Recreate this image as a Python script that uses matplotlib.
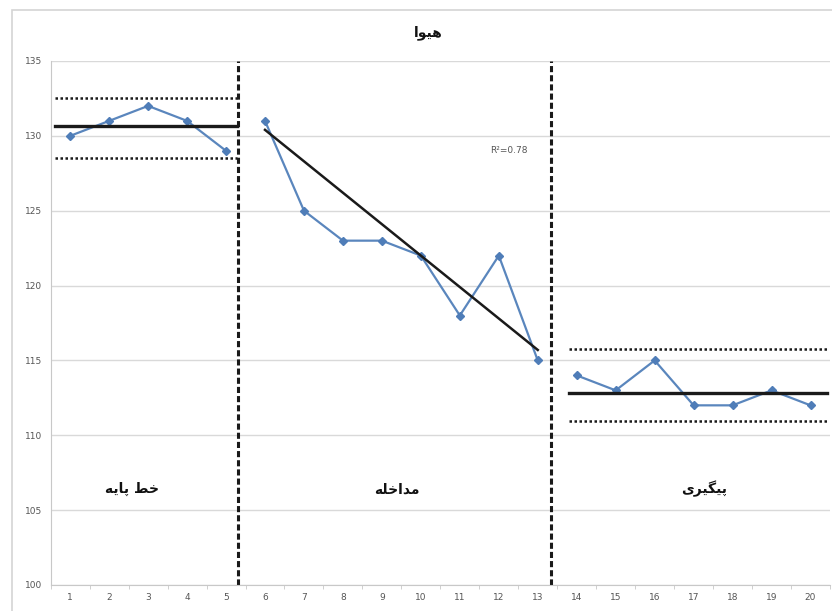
import matplotlib
matplotlib.use("Agg")
import matplotlib.pyplot as plt
from matplotlib.patches import Rectangle

plt.rcParams['font.family'] = ['DejaVu Sans']

# Session numbers and measured values per phase
baseline_x = [1, 2, 3, 4, 5]
baseline_y = [130, 131, 132, 131, 129]
intervention_x = [6, 7, 8, 9, 10, 11, 12, 13]
intervention_y = [131, 125, 123, 123, 122, 118, 122, 115]
followup_x = [14, 15, 16, 17, 18, 19, 20]
followup_y = [114, 113, 115, 112, 112, 113, 112]

# Reference levels: mean and upper/lower bands
baseline_levels = {"mean": 130.65, "upper": 132.5, "lower": 128.5}
followup_levels = {"mean": 112.85, "upper": 115.75, "lower": 110.95}
trend_x = [6, 13]
trend_y = [130.4, 115.7]
r_squared = 0.78

phase_breaks = [5.3, 13.35]

# Arabic-script labels in visual (presentation-form) order
title_text = "\uFE8D\uFEEE\uFEF4\uFEEB"                      # هیوا
label_baseline = "\uFEEA\uFEF3\uFE8E\uFB58 \uFEC2\uFEA7"     # خط پایه
label_intervention = "\uFEEA\uFEE0\uFEA7\uFE8D\uFEAA\uFEE3"  # مداخله
label_followup = "\uFEEF\uFEAE\uFEF4\uFB95\uFEF4\uFB58"      # پیگیری

fig = plt.figure(figsize=(8.32, 6.11), dpi=100)
fig.patch.set_facecolor("white")
fig.patches.append(Rectangle((12 / 832, -0.1), 1.2, (611 - 10) / 611 + 0.1,
                             transform=fig.transFigure, fill=False,
                             edgecolor="#d4d4d4", linewidth=1.2))

ax = fig.add_axes([50.7 / 832, 26 / 611, 779.3 / 832, 524 / 611])
ax.set_xlim(0.5, 20.5)
ax.set_ylim(100, 135)
ax.set_yticks(range(100, 136, 5))
ax.set_xticks(range(1, 21))
ax.grid(axis="y", color="#d9d9d9", linewidth=1.0)
ax.set_axisbelow(True)
for s in ["top", "right"]:
    ax.spines[s].set_visible(False)
for s in ["left", "bottom"]:
    ax.spines[s].set_color("#c8c8c8")
ax.tick_params(axis="both", length=0, labelsize=6.5, labelcolor="#555555", pad=6)
ax.set_xticks([i + 0.5 for i in range(0, 21)], minor=True)
ax.tick_params(axis="x", which="minor", length=3, color="#c8c8c8")

line_kw = dict(color="#5a86bd", linewidth=1.6, marker="D", markersize=4,
               markerfacecolor="#4f7db8", markeredgecolor="#4f7db8")
ax.plot(baseline_x, baseline_y, **line_kw)
ax.plot(intervention_x, intervention_y, **line_kw)
ax.plot(followup_x, followup_y, **line_kw)

# Baseline band
bx = [0.6, 5.27]
ax.plot(bx, [baseline_levels["mean"]] * 2, color="#1a1a1a", linewidth=2.4)
ax.plot(bx, [baseline_levels["upper"]] * 2, color="#1a1a1a", linewidth=1.8, linestyle=(0, (1, 1)))
ax.plot(bx, [baseline_levels["lower"]] * 2, color="#1a1a1a", linewidth=1.8, linestyle=(0, (1, 1)))

# Follow-up band
fx = [13.8, 20.42]
ax.plot(fx, [followup_levels["mean"]] * 2, color="#1a1a1a", linewidth=2.4)
ax.plot(fx, [followup_levels["upper"]] * 2, color="#1a1a1a", linewidth=1.8, linestyle=(0, (1, 1)))
ax.plot(fx, [followup_levels["lower"]] * 2, color="#1a1a1a", linewidth=1.8, linestyle=(0, (1, 1)))

# Intervention trend line
ax.plot(trend_x, trend_y, color="#1a1a1a", linewidth=1.8)
ax.text(12.26, 129.0, "R\u00b2=0.78".replace("0.78", f"{r_squared:.2f}"),
        ha="center", va="center", fontsize=6.5, color="#555555")

# Phase dividers
for xb in phase_breaks:
    ax.plot([xb, xb], [100, 135], color="#1a1a1a", linewidth=2.2,
            linestyle=(0, (2, 1)), clip_on=False)

# Phase labels
for x, lbl in [(2.59, label_baseline), (9.38, label_intervention), (17.26, label_followup)]:
    ax.text(x, 106.4, lbl, ha="center", va="center", fontsize=10, fontweight="bold",
            color="#111111")

fig.text(428 / 832, 1 - 33 / 611, title_text, ha="center", va="center",
         fontsize=10, fontweight="bold", color="#111111")

fig.savefig("out.png", dpi=100, facecolor="white")
